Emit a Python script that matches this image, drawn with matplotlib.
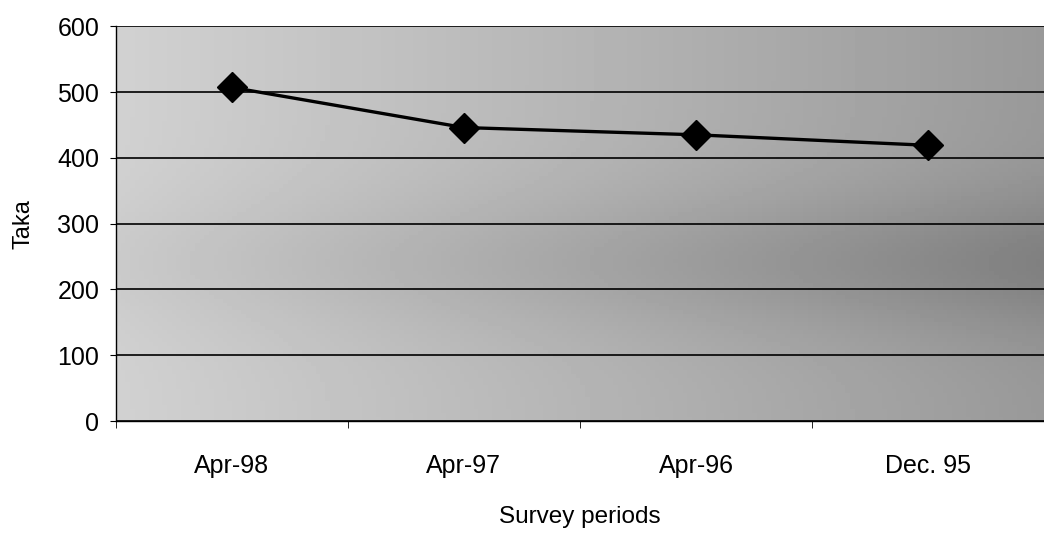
import matplotlib

matplotlib.use("Agg")
import matplotlib.pyplot as plt
import numpy as np

periods = ["Apr-98", "Apr-97", "Apr-96", "Dec. 95"]
taka = [507, 446, 435, 419]
y_ticks = [0, 100, 200, 300, 400, 500, 600]

plt.rcParams["font.family"] = ["Liberation Sans", "DejaVu Sans"]

fig = plt.figure(figsize=(10.44, 5.35), dpi=100)
ax = fig.add_axes([0.111, 0.213, 0.889, 0.738])

# shaded background: lighter on the left, darker towards the right and middle band
gx = np.linspace(0, 1, 200)
gy = np.linspace(0, 1, 100)
X, Y = np.meshgrid(gx, gy)
shade = 0.82 - 0.22 * X - 0.07 * np.exp(-((Y - 0.4) ** 2) / 0.03) * (0.4 + X)
ax.imshow(shade, cmap="gray", vmin=0, vmax=1, extent=[0, 1, 0, 1],
          transform=ax.transAxes, aspect="auto", zorder=0, origin="lower")

x = np.arange(len(periods))
ax.set_xlim(-0.5, len(periods) - 0.5)
ax.set_ylim(0, 600)
ax.set_yticks(y_ticks)
ax.grid(axis="y", color="black", linewidth=1.2, zorder=1)
ax.set_axisbelow(False)

ax.plot(x, taka, color="black", linewidth=2.4, marker="D", markersize=15,
        zorder=3, clip_on=False)

ax.set_xticks(x)
ax.set_xticklabels(periods)
ax.set_xticks(np.arange(len(periods) + 1) - 0.5, minor=True)
ax.tick_params(axis="x", which="major", length=0, labelsize=18, pad=24)
ax.tick_params(axis="x", which="minor", length=5, direction="out")
ax.tick_params(axis="y", length=4, labelsize=18, pad=8)

for side in ["top", "right"]:
    ax.spines[side].set_visible(False)
ax.spines["left"].set_linewidth(1)
ax.spines["bottom"].set_linewidth(1)

ax.set_xlabel("Survey periods", fontsize=17.5, labelpad=20)
ax.set_ylabel("Taka", fontsize=17, labelpad=16)

fig.savefig("out.png", dpi=100)
